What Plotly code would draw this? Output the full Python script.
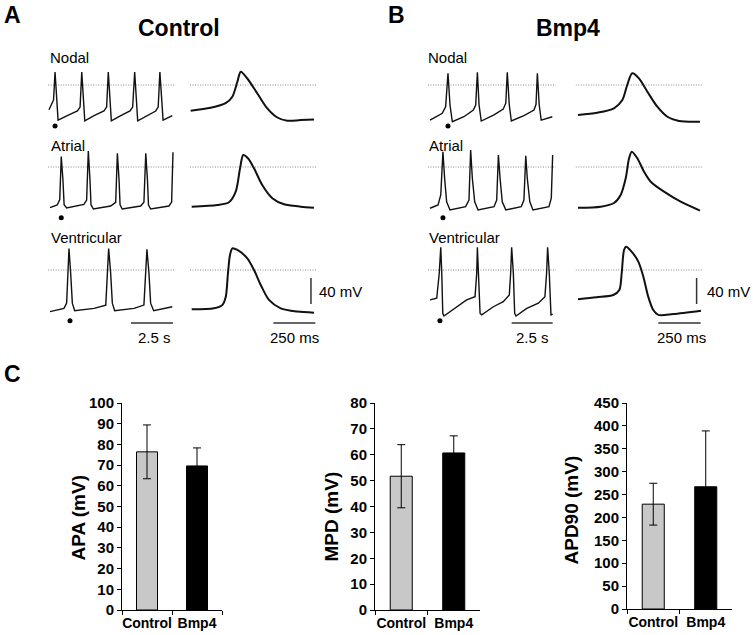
import plotly.graph_objects as go

W, H = 753, 635

# ---------------- DATA ----------------
# Action potential recordings: time (s for trains, ms for single APs), membrane potential (mV)
# Control (panel A)
ctrl_nodal_train_t = [0, 0.27, 0.36, 0.54, 1.09, 1.69, 1.85, 1.95, 2.13, 2.68, 3.27, 3.43, 3.53, 3.71,
                      4.27, 4.82, 4.98, 5.10, 5.28, 5.85, 6.35, 6.50, 6.60, 6.79, 7.34]
ctrl_nodal_train_v = [-38, -23, 20, -54, -47, -40, -34, 20, -55, -47, -40, -34, 20, -55,
                      -47, -40, -34, 20, -55, -47, -40, -34, 20, -54, -47]
ctrl_nodal_ap_t = [4, 123, 212, 252, 282, 302, 341, 401, 460, 520, 579, 659, 738]
ctrl_nodal_ap_v = [-39.5, -35, -28, -18, 5, 20.5, 10, -13, -36, -50, -55, -54, -53]

ctrl_atrial_train_t = [0.06, 0.49, 0.64, 0.73, 0.83, 0.90, 1.05, 2.08, 2.24, 2.34, 2.44, 2.50, 2.64,
                       3.67, 3.97, 4.07, 4.17, 4.23, 4.36, 5.46, 5.65, 5.76, 5.86, 5.92, 6.05,
                       7.14, 7.30, 7.38]
ctrl_atrial_train_v = [-62.6, -58.5, -50, 16, -20, -58, -63, -57.4, -50.8, 24.6, -20, -58, -64.6,
                       -60, -54.3, 21, -20, -58, -64.6, -60, -54.3, 21, -20, -58, -64.6,
                       -60, -54, 22.6]
ctrl_atrial_ap_t = [10, 163, 232, 272, 298, 317, 345, 381, 430, 490, 560, 659, 738]
ctrl_atrial_ap_v = [-61, -58.5, -54.3, -38, -2, 18.5, 13.4, -2, -27.7, -48, -57.4, -61, -62.6]

ctrl_vent_train_t = [0.06, 0.89, 1.05, 1.13, 1.19, 1.29, 1.39, 1.53, 2.68, 3.38, 3.47, 3.55, 3.67,
                     3.77, 3.91, 5.06, 5.65, 5.76, 5.83, 5.95, 6.05, 6.23, 7.34]
ctrl_vent_train_v = [-64, -59, -51, 15, 33, -5, -51, -62.6, -59, -54, -5, 33, -5,
                     -51, -62.6, -59, -54, -5, 32, -5, -51, -62.6, -56.5]
ctrl_vent_ap_t = [10, 143, 192, 213, 226, 238, 252, 282, 341, 381, 421, 470, 540, 639, 738]
ctrl_vent_ap_v = [-60.5, -59, -54, -41, -5, 23, 33.4, 30.8, 18, 0, -23, -46, -59, -64, -65.7]

# Bmp4 (panel B)
bmp_nodal_train_t = [0.06, 0.79, 0.99, 1.13, 1.25, 1.39, 2.08, 2.64, 2.78, 2.88, 2.98, 3.11,
                     3.87, 4.42, 4.57, 4.66, 4.78, 4.90, 5.65, 6.25, 6.37, 6.45, 6.56, 6.68, 7.34]
bmp_nodal_train_v = [-54, -43.5, -33.4, 18, -30.8, -56.5, -48.8, -38.5, -30.8, 19.5, -30.8, -55.4,
                     -46, -37, -28, 19.5, -30.8, -55.4, -47, -38.5, -29.7, 18, -30.8, -54, -48.8]
bmp_nodal_ap_t = [0, 115, 214, 264, 293, 323, 363, 413, 472, 532, 601, 726]
bmp_nodal_ap_v = [-46, -42.6, -35.8, -23, 0, 18, 10.3, -10.3, -33.4, -48.8, -55.4, -56.5]

bmp_atrial_train_t = [0.06, 0.54, 0.70, 0.83, 0.93, 1.05, 1.25, 2.18, 2.38, 2.48, 2.58, 2.72, 2.92,
                      3.87, 4.03, 4.13, 4.23, 4.36, 4.57, 5.49, 5.65, 5.76, 5.85, 6.00, 6.19,
                      7.14, 7.28, 7.36]
bmp_atrial_train_v = [-63.5, -58.5, -43, 23.5, -17.4, -53.4, -66, -61, -50.8, 26, -17.4, -53.4, -66,
                      -61, -50.8, 18.5, -17.4, -53.4, -66, -61, -50.8, 17.4, -17.4, -53.4, -66,
                      -61, -48, 18.5]
bmp_atrial_ap_t = [0, 135, 214, 254, 284, 304, 320, 353, 393, 433, 512, 611, 726]
bmp_atrial_ap_v = [-62.6, -61, -55.4, -43, -17.4, 13.4, 23.5, 13.4, -7.2, -22.6, -38, -53.4, -67]

bmp_vent_train_t = [0.06, 0.46, 0.61, 0.70, 0.76, 0.82, 0.89, 1.65, 2.24, 2.74, 2.84, 2.88, 2.96,
                    3.04, 3.14, 3.83, 4.42, 4.78, 4.86, 4.92, 5.02, 5.10, 5.18, 5.82, 6.51,
                    6.90, 7.00, 7.06, 7.16, 7.26, 7.36]
bmp_vent_train_v = [-46, -43.5, -5, 35, -5, -66.6, -70.8, -56.5, -46, -41, -5, 35, -5,
                    -66.6, -69, -56.5, -48.8, -38.5, -5, 35, -5, -66.6, -70.8, -59, -51,
                    -41, -5, 35, -5, -69, -67.7]
bmp_vent_ap_t = [0, 111, 210, 246, 260, 274, 286, 320, 359, 389, 418, 448, 478, 567, 732]
bmp_vent_ap_v = [-45, -42, -38.5, -30.8, -5, 30.8, 35.8, 28, 12.8, -10.3, -41, -61.5, -69, -67.7, -62.6]

# markers (dots) under the beat shown on the right: (time s, mV)
ctrl_dots = {"nodal": (0.36, -63), "atrial": (0.73, -78), "vent": (1.25, -78)}
bmp_dots = {"nodal": (1.13, -63), "atrial": (0.83, -78), "vent": (0.65, -78)}

# 0 mV reference extents
ctrl_ref_train_t = [-0.05, 7.55]
ctrl_ref_ap_t = [0, 755]
bmp_ref_train_t = [-0.06, 7.55]
bmp_ref_ap_t = [-13, 745]

# scale bars
ctrl_time_bar_s = [4.88, 7.38]
bmp_time_bar_s = [4.92, 7.36]
ctrl_time_bar_ms = [496, 746]
bmp_time_bar_ms = [478, 730]
bar_level_mv = -81.5
ctrl_volt_bar_t = 720
bmp_volt_bar_t = 706
volt_bar_mv = [-12.3, -52.3]

# Panel C summary data (mean, error)
groups = ["Control", "Bmp4"]
apa_mean = [76.4, 69.6]
apa_err = [13.0, 8.7]
mpd_mean = [51.7, 60.7]
mpd_err = [12.2, 6.6]
apd90_mean = [229, 267]
apd90_err = [45.7, 122]
bar_colors = ["#c8c8c8", "#000000"]

# ---------------- LAYOUT HELPERS ----------------
FONT = "Arial, Liberation Sans, sans-serif"
fig = go.Figure()
layout = {}
count = [0]


def px_x(a, b):
    return [a / W, b / W]


def px_y(top, bottom):
    return [1 - bottom / H, 1 - top / H]


def new_axes(xdom, ydom, xrange, yrange):
    count[0] += 1
    n = count[0]
    s = "" if n == 1 else str(n)
    layout["xaxis" + s] = dict(domain=xdom, range=xrange, anchor="y" + s, visible=False,
                               fixedrange=True, automargin=False)
    layout["yaxis" + s] = dict(domain=ydom, range=yrange, anchor="x" + s, visible=False,
                               fixedrange=True, automargin=False)
    return "x" + s, "y" + s, s


PX_PER_MV = 0.65
PX_PER_S = 16.8
PX_PER_MS = 0.168
row_zero = {"nodal": 85, "atrial": 167, "vent": 270}
yr = [-62 / PX_PER_MV, 32 / PX_PER_MV]

panels = {
    "ctrl": dict(train_left=48, train_x0=49, ap_left=186, ap_x0=190,
                 data={"nodal": (ctrl_nodal_train_t, ctrl_nodal_train_v, ctrl_nodal_ap_t, ctrl_nodal_ap_v),
                       "atrial": (ctrl_atrial_train_t, ctrl_atrial_train_v, ctrl_atrial_ap_t, ctrl_atrial_ap_v),
                       "vent": (ctrl_vent_train_t, ctrl_vent_train_v, ctrl_vent_ap_t, ctrl_vent_ap_v)},
                 dots=ctrl_dots, ref_train=ctrl_ref_train_t, ref_ap=ctrl_ref_ap_t,
                 tbar_s=ctrl_time_bar_s, tbar_ms=ctrl_time_bar_ms, vbar_t=ctrl_volt_bar_t),
    "bmp": dict(train_left=428, train_x0=429, ap_left=574, ap_x0=578,
                data={"nodal": (bmp_nodal_train_t, bmp_nodal_train_v, bmp_nodal_ap_t, bmp_nodal_ap_v),
                      "atrial": (bmp_atrial_train_t, bmp_atrial_train_v, bmp_atrial_ap_t, bmp_atrial_ap_v),
                      "vent": (bmp_vent_train_t, bmp_vent_train_v, bmp_vent_ap_t, bmp_vent_ap_v)},
                dots=bmp_dots, ref_train=bmp_ref_train_t, ref_ap=bmp_ref_ap_t,
                tbar_s=bmp_time_bar_s, tbar_ms=bmp_time_bar_ms, vbar_t=bmp_volt_bar_t),
}

REF = dict(color="#8a8a8a", width=1, dash="1px,1.5px")
for key, p in panels.items():
    for row, y0 in row_zero.items():
        ydom = px_y(y0 - 32, y0 + 62)
        tt, tv, at, av = p["data"][row]
        # train
        xr = [(p["train_left"] - p["train_x0"]) / PX_PER_S, (p["train_left"] + 132 - p["train_x0"]) / PX_PER_S]
        xa, ya, _ = new_axes(px_x(p["train_left"], p["train_left"] + 132), ydom, xr, yr)
        fig.add_trace(go.Scatter(x=p["ref_train"], y=[0, 0], mode="lines", line=REF, xaxis=xa, yaxis=ya, hoverinfo="skip"))
        fig.add_trace(go.Scatter(x=tt, y=tv, mode="lines", line=dict(color="#111", width=1.4), xaxis=xa, yaxis=ya))
        dt, dv = p["dots"][row]
        fig.add_trace(go.Scatter(x=[dt], y=[dv], mode="markers", marker=dict(color="#000", size=5), xaxis=xa, yaxis=ya))
        if row == "vent":
            fig.add_trace(go.Scatter(x=p["tbar_s"], y=[bar_level_mv] * 2, mode="lines",
                                     line=dict(color="#333", width=1.5), xaxis=xa, yaxis=ya))
        # single AP
        xr2 = [(p["ap_left"] - p["ap_x0"]) / PX_PER_MS, (p["ap_left"] + 134 - p["ap_x0"]) / PX_PER_MS]
        xb, yb, _ = new_axes(px_x(p["ap_left"], p["ap_left"] + 134), ydom, xr2, yr)
        fig.add_trace(go.Scatter(x=p["ref_ap"], y=[0, 0], mode="lines", line=REF, xaxis=xb, yaxis=yb, hoverinfo="skip"))
        fig.add_trace(go.Scatter(x=at, y=av, mode="lines", line=dict(color="#111", width=2, shape="spline", smoothing=0.8),
                                 xaxis=xb, yaxis=yb))
        if row == "vent":
            fig.add_trace(go.Scatter(x=p["tbar_ms"], y=[bar_level_mv] * 2, mode="lines",
                                     line=dict(color="#333", width=1.5), xaxis=xb, yaxis=yb))
            fig.add_trace(go.Scatter(x=[p["vbar_t"]] * 2, y=volt_bar_mv, mode="lines",
                                     line=dict(color="#333", width=1.5), xaxis=xb, yaxis=yb))

# ---------------- BAR CHARTS ----------------
bar_specs = [
    (apa_mean, apa_err, [122, 222], [403, 610], [0, 100], 10),
    (mpd_mean, mpd_err, [375, 480], [403, 610], [0, 80], 10),
    (apd90_mean, apd90_err, [627, 732], [403, 609], [0, 450], 50),
]
for mean, err, xpx, ypx, yrange, dtick in bar_specs:
    xa, ya, s = new_axes(px_x(*xpx), px_y(*ypx), [-0.5, 1.5], yrange)
    layout["xaxis" + s].update(visible=True, type="category", showline=True, linecolor="black", linewidth=1,
                               ticks="outside", tickson="boundaries", ticklen=4, tickcolor="black",
                               tickangle=0,
                               tickfont=dict(family=FONT, size=14, color="black", weight="bold"),
                               showgrid=False, zeroline=False)
    layout["yaxis" + s].update(visible=True, showline=True, linecolor="black", linewidth=1,
                               ticks="outside", ticklen=4, tickcolor="black", dtick=dtick, tick0=0,
                               tickfont=dict(family=FONT, size=15, color="black", weight="bold"),
                               showgrid=False, zeroline=False)
    fig.add_trace(go.Bar(x=groups, y=mean, width=0.42,
                         marker=dict(color=bar_colors, line=dict(color="black", width=1)),
                         error_y=dict(type="data", array=err, color="black", thickness=1, width=4),
                         xaxis=xa, yaxis=ya))

# ---------------- TEXT ----------------
ann = []


def text(s, x, y, size, bold=False, xanchor="center", yanchor="middle", angle=0):
    ann.append(dict(text=("<b>%s</b>" % s) if bold else s, x=x / W, y=1 - y / H, xref="paper", yref="paper",
                    xanchor=xanchor, yanchor=yanchor, showarrow=False, textangle=angle,
                    font=dict(family=FONT, size=size, color="black")))


text("A", 13, 15, 23, True)
text("B", 396, 15, 23, True)
text("C", 12, 374, 23, True)
text("Control", 179, 28, 23, True)
text("Bmp4", 568, 28, 23, True)
for lx in (48, 426):
    text("Nodal", lx, 57, 15, xanchor="left")
    text("Atrial", lx + 1, 145, 15, xanchor="left")
    text("Ventricular", lx + 1, 237, 15, xanchor="left")
text("2.5 s", 154, 337, 15)
text("250 ms", 294, 337, 15)
text("40 mV", 317, 292, 15, xanchor="left")
text("2.5 s", 532, 337, 15)
text("250 ms", 681, 337, 15)
text("40 mV", 705, 292, 15, xanchor="left")
text("APA (mV)", 77.5, 518, 19, True, angle=-90)
text("MPD (mV)", 330.5, 517, 19, True, angle=-90)
text("APD90 (mV)", 570.5, 510, 19, True, angle=-90)

layout.update(width=W, height=H, margin=dict(l=0, r=0, t=0, b=0, autoexpand=False), showlegend=False,
              template="none", autosize=False,
              paper_bgcolor="white", plot_bgcolor="rgba(0,0,0,0)", annotations=ann,
              font=dict(family=FONT, color="black"))
fig.update_layout(**layout)
fig.write_html("out.html", config={"displayModeBar": False, "staticPlot": True},
               post_script="document.body.style.margin='0px'; document.body.style.overflow='hidden';")
